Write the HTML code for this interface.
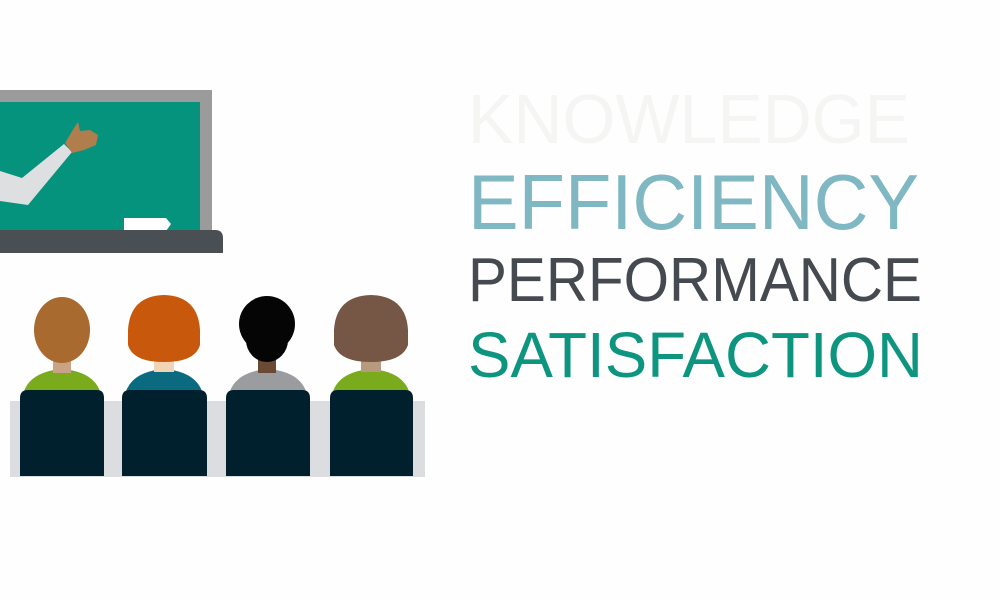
<!DOCTYPE html>
<html><head><meta charset="utf-8"><style>
html,body{margin:0;padding:0;background:#fff;}
svg{display:block}
text{font-family:"Liberation Sans",sans-serif;}
</style></head><body>
<svg width="1000" height="600" viewBox="0 0 1000 600">
<rect width="1000" height="600" fill="#fefefe"/>
<g>
<rect x="0" y="90" width="212" height="145" fill="#9b9b9b"/>
<rect x="0" y="102" width="200" height="130" fill="#06937d"/>
<polygon points="0,171 22,178 64,144 72,152 28,205 0,201" fill="#dedfe1"/>
<path d="M65,143 L74,128 L78,122 L80,131 L90,130 L98,135 L96,145 L84,150 L72,153 Z" fill="#b07d4d"/>
<polygon points="124,218 166,218 171,224 166,231 124,231" fill="#fff"/>
<path d="M0,230 L215,230 Q223,230 223,238 L223,253 L0,253 Z" fill="#4a4f54"/>
</g>
<rect x="10" y="401" width="415" height="76" fill="#dcdde0"/>
<g>
<path d="M22,400 Q25,372 62,369 Q99,372 102,400 Z" fill="#7aab1c"/>
<rect x="53" y="355" width="18" height="18" fill="#c9a385"/>
<ellipse cx="62" cy="330" rx="28" ry="33" fill="#a86a2e"/>
<path d="M20,398 Q20,390 28,390 L97,390 Q104,390 104,398 L104,476 L20,476 Z" fill="#00202e"/>
</g>
<g>
<path d="M124,400 Q127,372 164,369 Q201,372 204,400 Z" fill="#0a6b80"/>
<rect x="154" y="356" width="20" height="16" fill="#f3d3b6"/>
<path d="M128,330 Q130,296 164,295 Q198,296 200,330 L200,345 Q195,362 164,362 Q133,362 128,345 Z" fill="#c8580b"/>
<path d="M122,398 Q122,390 130,390 L199,390 Q207,390 207,398 L207,476 L122,476 Z" fill="#00202e"/>
</g>
<g>
<path d="M228,400 Q231,372 268,369 Q305,372 308,400 Z" fill="#9a9c9f"/>
<rect x="258" y="355" width="18" height="18" fill="#6b4a33"/>
<ellipse cx="267" cy="324" rx="28" ry="28" fill="#050505"/>
<ellipse cx="267" cy="340" rx="21" ry="22" fill="#050505"/>
<path d="M226,398 Q226,390 234,390 L302,390 Q310,390 310,398 L310,476 L226,476 Z" fill="#00202e"/>
</g>
<g>
<path d="M331,400 Q334,372 371,369 Q408,372 411,400 Z" fill="#7aab1c"/>
<rect x="361" y="356" width="20" height="16" fill="#b89a7f"/>
<path d="M334,330 Q336,296 371,295 Q406,296 408,330 L408,345 Q402,362 371,362 Q340,362 334,345 Z" fill="#765645"/>
<path d="M330,398 Q330,390 338,390 L405,390 Q413,390 413,398 L413,476 L330,476 Z" fill="#00202e"/>
</g>
<text x="468" y="143" font-size="70" fill="#f5f6f3" textLength="442" lengthAdjust="spacingAndGlyphs">KNOWLEDGE</text>
<text x="468" y="229" font-size="78" fill="#7fb7c3" textLength="451" lengthAdjust="spacingAndGlyphs">EFFICIENCY</text>
<text x="468" y="301" font-size="62" fill="#454a50" textLength="454" lengthAdjust="spacingAndGlyphs">PERFORMANCE</text>
<text x="468" y="377" font-size="64" fill="#0d957f" textLength="455" lengthAdjust="spacingAndGlyphs">SATISFACTION</text>
</svg>
</body></html>
